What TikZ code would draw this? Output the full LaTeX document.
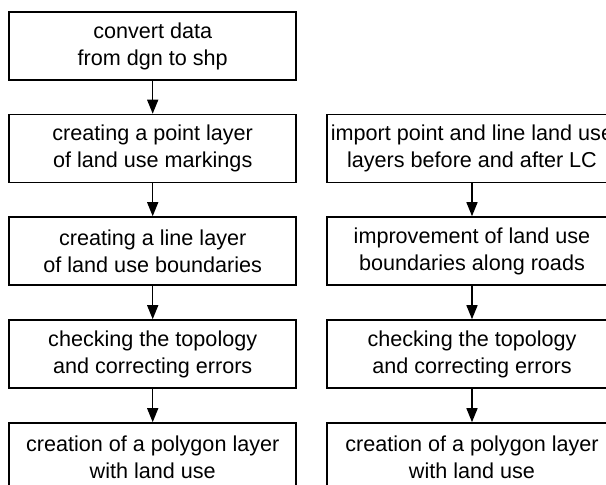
\documentclass[tikz,border=0pt]{standalone}
\usepackage{fontspec}
\setmainfont{Liberation Sans}
\usetikzlibrary{arrows.meta}

\tikzset{
  stepbox/.style={rectangle, draw, line width=0.8pt, minimum width=143.5pt, minimum height=34pt,
    inner sep=0pt, align=center, font=\fontsize{10.8}{13.5}\selectfont},
  widebox/.style={stepbox, minimum width=145pt},
  flow/.style={line width=0.7pt, -{Triangle[length=7pt,width=5.5pt]}}
}

\begin{document}
\begin{tikzpicture}[x=0.5pt, y=-0.5pt]
\useasboundingbox (0,0) rectangle (606,484);
% left column
\node [stepbox] (l1) at (152.7,46) {convert data\\from dgn to shp};
\node [stepbox] (l2) at (152.7,148.5) {creating a point layer\\of land use markings};
\node [stepbox] (l3) at (152.7,251) {creating a line layer\\of land use boundaries};
\node [stepbox] (l4) at (152.7,354) {checking the topology\\and correcting errors};
\node [stepbox] (l5) at (152.7,457) {creation of a polygon layer\\with land use};
% right column
\node [widebox] (r1) at (472,148.5) {import point and line land use\\layers before and after LC};
\node [widebox] (r2) at (472,251) {improvement of land use\\boundaries along roads};
\node [widebox] (r3) at (472,354) {checking the topology\\and correcting errors};
\node [widebox] (r4) at (472,457) {creation of a polygon layer\\with land use};

\draw[flow] (l1) -- (l2);
\draw[flow] (l2) -- (l3);
\draw[flow] (l3) -- (l4);
\draw[flow] (l4) -- (l5);
\draw[flow] (r1) -- (r2);
\draw[flow] (r2) -- (r3);
\draw[flow] (r3) -- (r4);
\end{tikzpicture}
\end{document}
